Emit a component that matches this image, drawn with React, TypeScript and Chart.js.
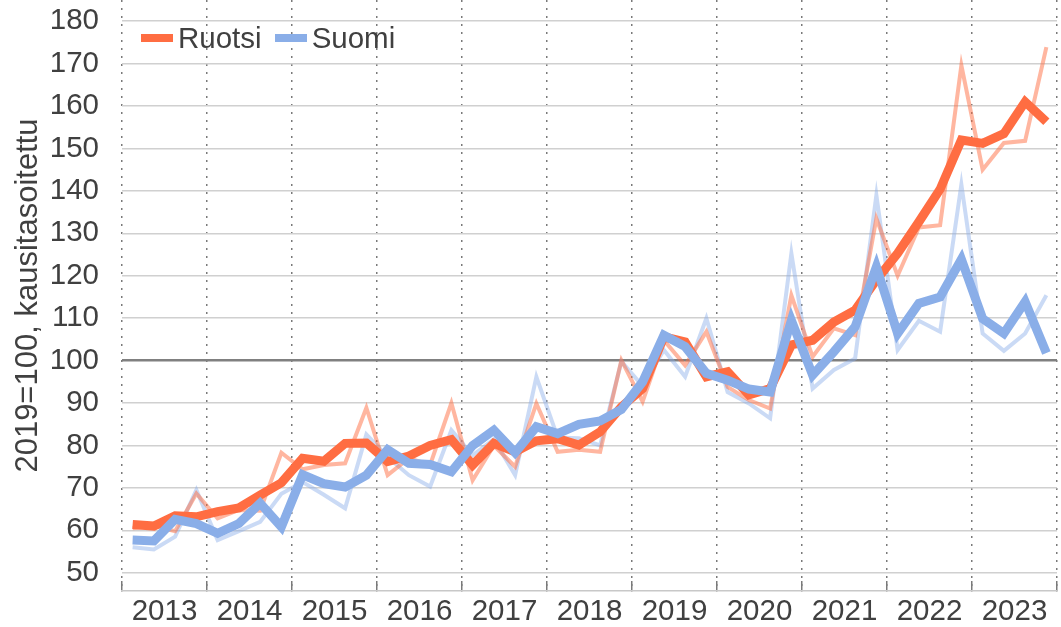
import React, { useEffect, useRef } from 'react';
import { Chart, registerables } from 'chart.js';

Chart.register(...registerables);

const years = ['2013', '2014', '2015', '2016', '2017', '2018', '2019', '2020', '2021', '2022', '2023'];
const quarterNames = ['Q1', 'Q2', 'Q3', 'Q4'];
const yTicks = [50, 60, 70, 80, 90, 100, 110, 120, 130, 140, 150, 160, 170, 180];

const seriesNames = ['Ruotsi', 'Suomi'];
const yTitle = '2019=100, kausitasoitettu';

// Seasonally adjusted (thick lines)
const ruotsiTrend = [
  61.4, 61.0, 63.4, 63.2, 64.4, 65.3, 68.3, 71.2, 77.0, 76.3, 80.5, 80.6,
  76.2, 77.5, 80.0, 81.4, 75.4, 80.5, 78.5, 81.1, 81.6, 80.1, 83.2, 89.1,
  93.4, 105.6, 104.4, 96.2, 97.4, 91.9, 93.4, 103.7, 104.8, 109.1, 111.9, 119.0,
  125.3, 132.7, 140.4, 152.0, 151.2, 153.5, 161.0, 156.3,
];
const suomiTrend = [
  57.7, 57.5, 62.6, 61.6, 59.3, 61.6, 66.4, 60.8, 73.1, 71.0, 70.2, 73.0,
  79.0, 75.8, 75.5, 73.8, 80.0, 83.6, 78.3, 84.4, 82.8, 85.0, 85.8, 88.5,
  95.0, 106.0, 103.3, 97.0, 95.4, 93.3, 92.6, 109.5, 96.6, 102.1, 108.0, 122.1,
  106.4, 113.5, 115.0, 123.9, 109.9, 106.4, 113.9, 101.8,
];
// Raw (thin lines)
const ruotsiRaw = [
  60.5, 61.0, 59.8, 68.7, 62.8, 64.8, 64.6, 78.3, 74.4, 75.4, 75.8, 88.9,
  73.0, 77.0, 75.4, 90.0, 71.8, 80.0, 75.0, 89.9, 78.5, 79.0, 78.5, 100.1,
  90.3, 104.8, 98.9, 106.8, 93.8, 90.7, 88.7, 115.4, 100.9, 107.6, 106.0, 133.5,
  120.0, 131.4, 131.9, 169.6, 145.0, 151.3, 151.8, 173.9,
];
const suomiRaw = [
  56.0, 55.5, 58.5, 69.5, 57.7, 59.8, 62.0, 68.6, 71.4, 68.4, 65.2, 82.6,
  77.3, 73.0, 70.3, 83.6, 77.7, 81.5, 73.0, 96.2, 81.9, 81.7, 80.0, 99.8,
  94.0, 102.5, 96.2, 110.0, 92.6, 89.9, 86.4, 125.3, 93.4, 97.8, 100.5, 139.0,
  102.5, 109.4, 106.8, 141.5, 106.4, 102.3, 106.4, 115.4,
];

const ORANGE = '#ff6d42';
const ORANGE_LIGHT = 'rgba(255,109,66,0.5)';
const BLUE = '#8aaee8';
const BLUE_LIGHT = 'rgba(138,174,232,0.45)';
const TEXT = '#404040';
const FONT = '"Liberation Sans", Arial, sans-serif';

const labels = years.flatMap((y) => quarterNames.map((q) => `${y} ${q}`));

export default function App() {
  const ref = useRef<HTMLCanvasElement>(null);

  useEffect(() => {
    const isYearLine = (ctx: any) => ctx.index === undefined || ctx.index % 4 === 0;
    const chart = new Chart(ref.current!, {
      type: 'line',
      data: {
        labels,
        datasets: [
          { label: seriesNames[0], data: ruotsiTrend, borderColor: ORANGE, backgroundColor: ORANGE, borderWidth: 9, order: 1 },
          { label: seriesNames[1], data: suomiTrend, borderColor: BLUE, backgroundColor: BLUE, borderWidth: 9, order: 0 },
          { label: seriesNames[0] + ' raw', data: ruotsiRaw, borderColor: ORANGE_LIGHT, backgroundColor: ORANGE_LIGHT, borderWidth: 4, order: 2 },
          { label: seriesNames[1] + ' raw', data: suomiRaw, borderColor: BLUE_LIGHT, backgroundColor: BLUE_LIGHT, borderWidth: 4, order: 3 },
        ],
      },
      options: {
        animation: false,
        responsive: false,
        devicePixelRatio: 1,
        layout: { padding: { left: 0, right: 4, top: 0, bottom: 0 } },
        elements: { point: { radius: 0 }, line: { tension: 0, fill: false } },
        plugins: { legend: { display: false }, tooltip: { enabled: false } },
        scales: {
          x: {
            type: 'category',
            offset: true,
            grid: {
              offset: true,
              drawOnChartArea: true,
              color: (ctx: any) => (isYearLine(ctx) ? '#7a7a7a' : 'rgba(0,0,0,0)'),
              lineWidth: 1.5,
              tickLength: -10,
              tickWidth: 1.5,
              tickColor: (ctx: any) => (isYearLine(ctx) ? '#7a7a7a' : 'rgba(0,0,0,0)'),
            },
            border: { display: true, color: '#c8c8c8', width: 1.5, dash: [2, 6] },
            ticks: {
              autoSkip: false,
              maxRotation: 0,
              minRotation: 0,
              labelOffset: 10.6,
              padding: 13,
              color: TEXT,
              font: { family: FONT, size: 29.5 },
              callback: (_v: any, i: number) => (i % 4 === 1 ? years[Math.floor(i / 4)] : ''),
            },
            afterFit: (s: any) => {
              s.height = 36;
              s.paddingLeft = 0;
              s.paddingRight = 0;
            },
          },
          y: {
            min: 45.7,
            max: 185,
            afterBuildTicks: (s: any) => {
              s.ticks = yTicks.map((v) => ({ value: v }));
            },
            grid: {
              drawTicks: false,
              color: (ctx: any) => (ctx.tick && ctx.tick.value === 100 ? '#808080' : '#d0d0d0'),
              lineWidth: (ctx: any) => (ctx.tick && ctx.tick.value === 100 ? 2.5 : 1.5),
            },
            border: { display: false },
            ticks: { padding: 23, color: TEXT, font: { family: FONT, size: 29.5 } },
            title: {
              display: true,
              text: yTitle,
              color: TEXT,
              font: { family: FONT, size: 31 },
              padding: { top: 10, bottom: 0 },
            },
            afterFit: (s: any) => {
              s.width = 122;
              s.paddingTop = 0;
              s.paddingBottom = 0;
            },
          },
        },
      },
    });
    return () => chart.destroy();
  }, []);

  const legendColors = [ORANGE, BLUE];

  return (
    <div style={{ position: 'fixed', left: 0, top: 0, width: 1061, height: 627, background: '#fff' }}>
      <canvas ref={ref} width={1061} height={627} style={{ display: 'block' }} />
      <div
        style={{
          position: 'absolute',
          left: 141,
          top: 24,
          display: 'flex',
          alignItems: 'center',
          fontFamily: FONT,
          fontSize: 29.5,
          lineHeight: '28px',
          color: TEXT,
          whiteSpace: 'nowrap',
        }}
      >
        {seriesNames.map((name, i) => (
          <div key={name} style={{ display: 'flex', alignItems: 'center', marginRight: 13 }}>
            <span style={{ display: 'inline-block', width: 32, height: 8, background: legendColors[i], marginRight: 5 }} />
            <span>{name}</span>
          </div>
        ))}
      </div>
    </div>
  );
}
